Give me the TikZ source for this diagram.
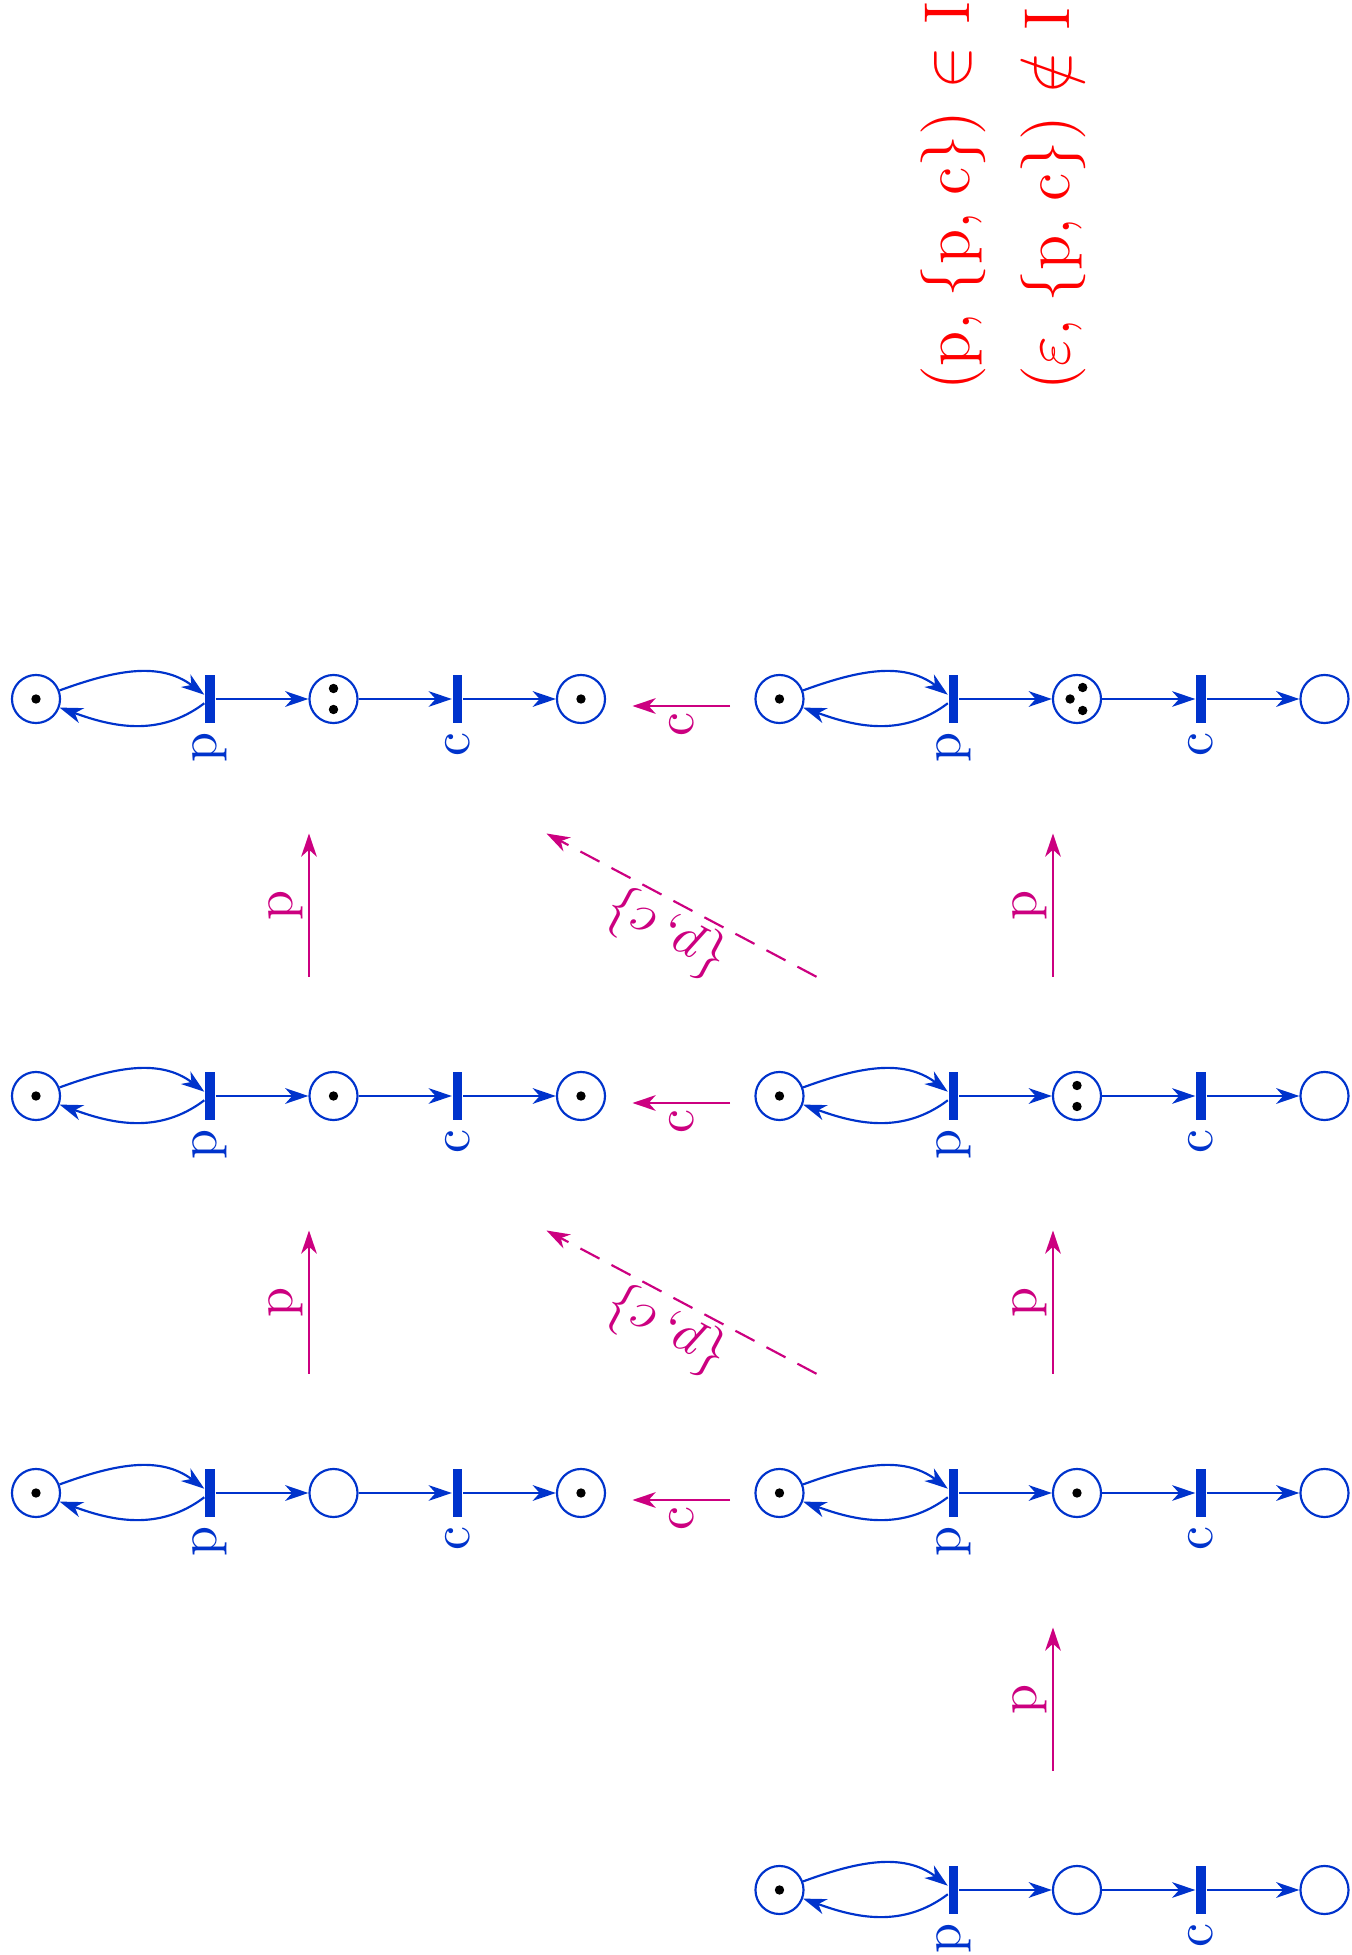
\documentclass[tikz,border=0pt]{standalone}
\usetikzlibrary{arrows.meta}

\definecolor{netblue}{RGB}{0,51,204}
\definecolor{firepink}{RGB}{204,0,128}

\tikzset{
  placenode/.style={circle,draw=netblue,minimum size=8.9pt,inner sep=0pt},
  transbar/.style={rectangle,fill=netblue,minimum width=1.7pt,minimum height=8.9pt,inner sep=0pt},
  netarc/.style={netblue,-{Stealth[length=4.3pt,width=2.9pt,inset=1.3pt]}},
  tlabel/.style={text=netblue,rotate=90,anchor=east,inner sep=1.3pt},
  firearrow/.style={firepink,-{Stealth[length=4.3pt,width=2.9pt,inset=1.3pt]}},
  firelabel/.style={text=firepink,rotate=90,inner sep=1pt},
}

\newcommand{\drawtokens}[2]{%
  \ifcase#2\relax
  \or
    \fill (#1.center) circle[radius=4.7];
  \or
    \fill ([shift={(0,10.5)}]#1.center) circle[radius=4.7];
    \fill ([shift={(0,-10.5)}]#1.center) circle[radius=4.7];
  \or
    \fill ([shift={(-6.9,0)}]#1.center) circle[radius=4.7];
    \fill ([shift={(5.7,11.5)}]#1.center) circle[radius=4.7];
    \fill ([shift={(5.7,-11.5)}]#1.center) circle[radius=4.7];
  \fi}

\begin{document}
\begin{tikzpicture}[x=0.18519pt,y=0.18519pt]
  \useasboundingbox (0,0) rectangle (1352,1955);
  \foreach \n/\x/\y/\ka/\kb/\kk in {a1/36/1256/1/2/1,a2/779.5/1256/1/3/0,
      b1/36/859/1/1/1,b2/779.5/859/1/2/0,c1/36/462/1/0/1,c2/779.5/462/1/1/0,
      d2/779.5/65/1/0/0}{
    \node[placenode] (\n-p1) at (\x,\y) {};
    \node[transbar] (\n-tp) at (\x+174,\y) {};
    \node[placenode] (\n-p2) at (\x+297.5,\y) {};
    \node[transbar] (\n-tc) at (\x+421.5,\y) {};
    \node[placenode] (\n-p3) at (\x+545,\y) {};
    \node[tlabel] (\n-lp) at (\n-tp.south) {p};
    \node[tlabel] (\n-lc) at (\n-tc.south) {c};
    \draw[netarc] (\n-p1) to[out=20,in=143] (\n-tp);
    \draw[netarc] (\n-tp) to[out=217,in=-20] (\n-p1);
    \draw[netarc] (\n-tp) -- (\n-p2);
    \draw[netarc] (\n-p2) -- (\n-tc);
    \draw[netarc] (\n-tc) -- (\n-p3);
    \drawtokens{\n-p1}{\ka}
    \drawtokens{\n-p2}{\kb}
    \drawtokens{\n-p3}{\kk}
  }

  \foreach \g/\xx/\yt/\yh in {l1/309/978.2/1121.5,l2/309/581.2/724.5,
      r1/1053/978.2/1121.5,r2/1053/581.2/724.5,r3/1053/184.2/327.5}{
    \coordinate (\g-s) at (\xx,\yt);
    \coordinate (\g-t) at (\xx,\yh);
    \draw[firearrow] (\g-s) -- node[firelabel,anchor=south] (\g-l) {p} (\g-t);
  }

  \foreach \g/\yy in {a/1249,b/852,c/455}{
    \coordinate (c\g-s) at (730,\yy);
    \coordinate (c\g-t) at (632.5,\yy);
    \draw[firearrow] (c\g-s) -- node[firelabel,anchor=east] (c\g-l) {c} (c\g-t);
  }

  \foreach \g/\yt/\yh in {s1/978.2/1121.5,s2/581.2/724.5}{
    \coordinate (\g-s) at (816.5,\yt);
    \coordinate (\g-t) at (546.5,\yh);
    \draw[firearrow,dash pattern=on 4pt off 2.5pt] (\g-s) -- node[text=firepink,sloped,allow upside down,anchor=south,inner sep=0.8pt] (\g-l) {$\{p, c\}$} (\g-t);
  }

  \node[red,font=\large,rotate=90,anchor=base west] (inI) at (970,1545) {(p,\hspace{.25em}\{p,\hspace{.25em}c\}) $\in$ I};
  \node[red,font=\large,rotate=90,anchor=base west] (notinI) at (1070,1545) {($\varepsilon$,\hspace{.25em}\{p,\hspace{.25em}c\}) $\notin$ I};
\end{tikzpicture}
\end{document}
